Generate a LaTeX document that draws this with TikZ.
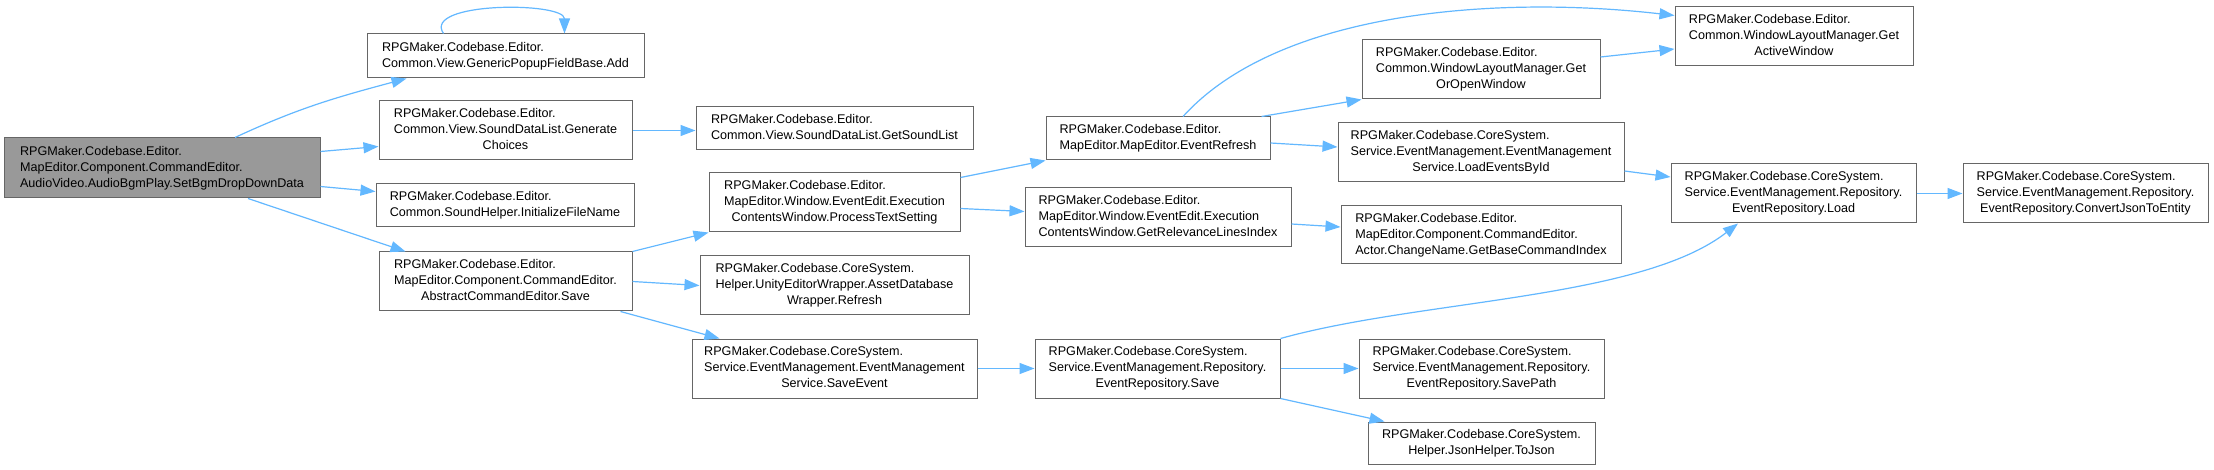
\documentclass[tikz,border=0pt]{standalone}
\usepackage{fontspec}
\setmainfont{Liberation Sans}
\usetikzlibrary{arrows.meta,calc}
\definecolor{edgeblue}{HTML}{63B8FF}
\definecolor{nodeborder}{HTML}{666666}
\definecolor{rootfill}{HTML}{999999}
\newcommand{\mlbl}[2]{\begin{tabular}{@{}l@{}}#1\\\multicolumn{1}{@{}c@{}}{#2}\end{tabular}}
\begin{document}
\begin{tikzpicture}[x=1pt,y=-1pt,
  font=\fontsize{12.6}{16}\selectfont,
  box/.style={draw=nodeborder, line width=1pt, fill=white, inner sep=0pt, text=black},
  e/.style={draw=edgeblue, line width=1.2pt, -{Triangle[length=15pt,width=11pt]}}]
\fill[white] (0,0) rectangle (2214,470);
\useasboundingbox (0,0) rectangle (2214,470);

% column 1
\node[box, fill=rootfill, minimum width=316pt, minimum height=60pt] (root) at (162,168)
  {\mlbl{RPGMaker.Codebase.Editor.\\MapEditor.Component.CommandEditor.}{AudioVideo.AudioBgmPlay.SetBgmDropDownData}};
% column 2
\node[box, minimum width=277pt, minimum height=44pt] (add) at (505.5,56)
  {\mlbl{RPGMaker.Codebase.Editor.}{Common.View.GenericPopupFieldBase.Add}};
\node[box, minimum width=253pt, minimum height=59pt] (gen) at (505.5,130.5)
  {\mlbl{RPGMaker.Codebase.Editor.\\Common.View.SoundDataList.Generate}{Choices}};
\node[box, minimum width=258pt, minimum height=43pt] (init) at (505,205.5)
  {\mlbl{RPGMaker.Codebase.Editor.}{Common.SoundHelper.InitializeFileName}};
\node[box, minimum width=253pt, minimum height=59pt] (save) at (505.5,281.5)
  {\mlbl{RPGMaker.Codebase.Editor.\\MapEditor.Component.CommandEditor.}{AbstractCommandEditor.Save}};
% column 3
\node[box, minimum width=277pt, minimum height=43pt] (getsl) at (834.5,128.5)
  {\mlbl{RPGMaker.Codebase.Editor.}{Common.View.SoundDataList.GetSoundList}};
\node[box, minimum width=251pt, minimum height=59pt] (pts) at (834.5,202.5)
  {\mlbl{RPGMaker.Codebase.Editor.\\MapEditor.Window.EventEdit.Execution}{ContentsWindow.ProcessTextSetting}};
\node[box, minimum width=269pt, minimum height=59pt] (adw) at (834.5,285.5)
  {\mlbl{RPGMaker.Codebase.CoreSystem.\\Helper.UnityEditorWrapper.AssetDatabase}{Wrapper.Refresh}};
\node[box, minimum width=285pt, minimum height=59pt] (sev) at (834.5,368.5)
  {\mlbl{RPGMaker.Codebase.CoreSystem.\\Service.EventManagement.EventManagement}{Service.SaveEvent}};
% column 4
\node[box, minimum width=224pt, minimum height=43pt] (erf) at (1158,138.5)
  {\mlbl{RPGMaker.Codebase.Editor.}{MapEditor.MapEditor.EventRefresh}};
\node[box, minimum width=266pt, minimum height=59pt] (grl) at (1158,217.5)
  {\mlbl{RPGMaker.Codebase.Editor.\\MapEditor.Window.EventEdit.Execution}{ContentsWindow.GetRelevanceLinesIndex}};
\node[box, minimum width=245pt, minimum height=59pt] (ers) at (1157.5,368.5)
  {\mlbl{RPGMaker.Codebase.CoreSystem.\\Service.EventManagement.Repository.}{EventRepository.Save}};
% column 5
\node[box, minimum width=238pt, minimum height=59pt] (goo) at (1481,69.5)
  {\mlbl{RPGMaker.Codebase.Editor.\\Common.WindowLayoutManager.Get}{OrOpenWindow}};
\node[box, minimum width=286pt, minimum height=59pt] (lei) at (1481,152.5)
  {\mlbl{RPGMaker.Codebase.CoreSystem.\\Service.EventManagement.EventManagement}{Service.LoadEventsById}};
\node[box, minimum width=280pt, minimum height=58pt] (gbc) at (1481,235)
  {\mlbl{RPGMaker.Codebase.Editor.\\MapEditor.Component.CommandEditor.}{Actor.ChangeName.GetBaseCommandIndex}};
\node[box, minimum width=245pt, minimum height=59pt] (spa) at (1481.5,368.5)
  {\mlbl{RPGMaker.Codebase.CoreSystem.\\Service.EventManagement.Repository.}{EventRepository.SavePath}};
\node[box, minimum width=227pt, minimum height=42pt] (tjs) at (1481.5,443)
  {\mlbl{RPGMaker.Codebase.CoreSystem.}{Helper.JsonHelper.ToJson}};
% column 6
\node[box, minimum width=238pt, minimum height=59pt] (gaw) at (1794,36.5)
  {\mlbl{RPGMaker.Codebase.Editor.\\Common.WindowLayoutManager.Get}{ActiveWindow}};
\node[box, minimum width=245pt, minimum height=59pt] (lod) at (1793.5,193.5)
  {\mlbl{RPGMaker.Codebase.CoreSystem.\\Service.EventManagement.Repository.}{EventRepository.Load}};
% column 7
\node[box, minimum width=245pt, minimum height=59pt] (cje) at (2085.5,193.5)
  {\mlbl{RPGMaker.Codebase.CoreSystem.\\Service.EventManagement.Repository.}{EventRepository.ConvertJsonToEntity}};

% edges
\draw[e] ($(root.north)+(73,0)$) to[out=25,in=195] ($(add.south west)+(40,0)$);
\draw[e] ($(root.north east)+(0,14)$) -- ($(gen.south west)+(0,-14)$);
\draw[e] ($(root.south east)+(0,-12)$) -- ($(init.north west)+(0,8)$);
\draw[e] ($(root.south)+(86,0)$) -- ($(save.north west)+(27,0)$);
\draw[e] ($(add.north west)+(77,0)$) .. controls +(-22,-32) and +(0,-32) .. ($(add.north west)+(198,0)$);
\draw[e] (gen.east) -- (gen.east -| getsl.west);
\draw[e] (save.north east) -- (pts.south west);
\draw[e] (save.east) -- (adw.west);
\draw[e] ($(save.south east)+(-12,0)$) -- ($(sev.north west)+(28,0)$);
\draw[e] ($(pts.north east)+(0,5)$) -- (erf.south west);
\draw[e] ($(pts.east)+(0,6)$) -- ($(grl.west)+(0,-6)$);
\draw[e] ($(erf.north)+(25,0)$) .. controls +(97,-107) and +(-174,-20) .. ($(gaw.west)+(0,-21)$);
\draw[e] ($(erf.north east)+(-9,0)$) -- (goo.south west);
\draw[e] ($(erf.east)+(0,4.5)$) -- ($(lei.west)+(0,-5.5)$);
\draw[e] ($(goo.east)+(0,-12.5)$) -- ($(gaw.west)+(0,12.5)$);
\draw[e] ($(grl.east)+(0,6.5)$) -- ($(gbc.west)+(0,-8)$);
\draw[e] (sev.east) -- (ers.west);
\draw[e] (ers.north east) .. controls +(140,-39) and +(-98,76) .. ($(lod.south)+(-55.5,0)$);
\draw[e] (ers.east) -- (spa.west);
\draw[e] (ers.south east) -- ($(tjs.north west)+(17,0)$);
\draw[e] ($(lei.east)+(0,18.5)$) -- ($(lod.west)+(0,-16.5)$);
\draw[e] (lod.east) -- (cje.west);
\end{tikzpicture}
\end{document}
